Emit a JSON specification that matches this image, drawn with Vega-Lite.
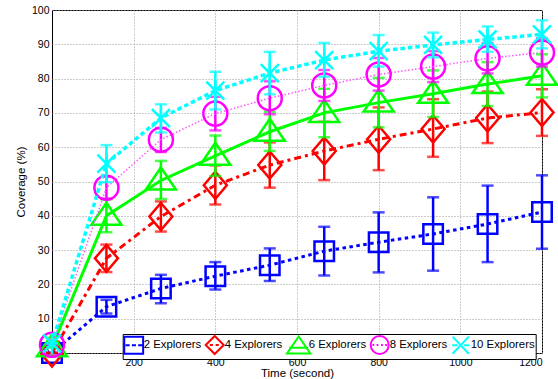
{
  "$schema": "https://vega.github.io/schema/vega-lite/v6.json",
  "width": 490,
  "height": 343,
  "autosize": {"type": "none"},
  "padding": {"left": 52, "top": 10, "right": 16, "bottom": 26},
  "background": "white",
  "datasets": {
    "coverage": [
      {"s": "2 Explorers", "t": 0, "v": 0, "lo": 0, "hi": 0},
      {"s": "2 Explorers", "t": 133.3, "v": 13.5, "lo": 11.5, "hi": 15.5},
      {"s": "2 Explorers", "t": 266.7, "v": 18.8, "lo": 14.5, "hi": 22.8},
      {"s": "2 Explorers", "t": 400, "v": 22.4, "lo": 18.5, "hi": 26.5},
      {"s": "2 Explorers", "t": 533.3, "v": 25.6, "lo": 21, "hi": 30.5},
      {"s": "2 Explorers", "t": 666.7, "v": 29.7, "lo": 22.6, "hi": 36.8},
      {"s": "2 Explorers", "t": 800, "v": 32.3, "lo": 23.5, "hi": 41},
      {"s": "2 Explorers", "t": 933.3, "v": 34.7, "lo": 24, "hi": 45.4},
      {"s": "2 Explorers", "t": 1066.7, "v": 37.6, "lo": 26.5, "hi": 48.8},
      {"s": "2 Explorers", "t": 1200, "v": 41.1, "lo": 30.4, "hi": 51.8},
      {"s": "4 Explorers", "t": 0, "v": 0, "lo": 0, "hi": 0},
      {"s": "4 Explorers", "t": 133.3, "v": 27.6, "lo": 23.6, "hi": 31.6},
      {"s": "4 Explorers", "t": 266.7, "v": 39.8, "lo": 35.4, "hi": 44.2},
      {"s": "4 Explorers", "t": 400, "v": 48.9, "lo": 43.3, "hi": 54.7},
      {"s": "4 Explorers", "t": 533.3, "v": 54.8, "lo": 48.2, "hi": 61.4},
      {"s": "4 Explorers", "t": 666.7, "v": 58.9, "lo": 50.4, "hi": 67.4},
      {"s": "4 Explorers", "t": 800, "v": 62.3, "lo": 53.3, "hi": 71.6},
      {"s": "4 Explorers", "t": 933.3, "v": 65.3, "lo": 57.2, "hi": 74},
      {"s": "4 Explorers", "t": 1066.7, "v": 68.5, "lo": 61.2, "hi": 76.2},
      {"s": "4 Explorers", "t": 1200, "v": 70.1, "lo": 63.3, "hi": 76.9},
      {"s": "6 Explorers", "t": 0, "v": 1.7, "lo": 1.7, "hi": 1.7},
      {"s": "6 Explorers", "t": 133.3, "v": 40, "lo": 35.2, "hi": 44.8},
      {"s": "6 Explorers", "t": 266.7, "v": 50.3, "lo": 44.9, "hi": 56},
      {"s": "6 Explorers", "t": 400, "v": 57.5, "lo": 51.6, "hi": 63.4},
      {"s": "6 Explorers", "t": 533.3, "v": 64.5, "lo": 58.9, "hi": 70.3},
      {"s": "6 Explorers", "t": 666.7, "v": 70, "lo": 62.9, "hi": 77},
      {"s": "6 Explorers", "t": 800, "v": 73, "lo": 65.8, "hi": 80.2},
      {"s": "6 Explorers", "t": 933.3, "v": 75.6, "lo": 68.8, "hi": 82.4},
      {"s": "6 Explorers", "t": 1066.7, "v": 78.4, "lo": 72, "hi": 84.8},
      {"s": "6 Explorers", "t": 1200, "v": 80.8, "lo": 74.5, "hi": 87.1},
      {"s": "8 Explorers", "t": 0, "v": 2.4, "lo": 2.4, "hi": 2.4},
      {"s": "8 Explorers", "t": 133.3, "v": 48.2, "lo": 45, "hi": 51.4},
      {"s": "8 Explorers", "t": 266.7, "v": 62.2, "lo": 58.6, "hi": 65.6},
      {"s": "8 Explorers", "t": 400, "v": 69.8, "lo": 64.9, "hi": 74.7},
      {"s": "8 Explorers", "t": 533.3, "v": 74.3, "lo": 69.6, "hi": 79.2},
      {"s": "8 Explorers", "t": 666.7, "v": 78, "lo": 73.5, "hi": 82.5},
      {"s": "8 Explorers", "t": 800, "v": 81.2, "lo": 76.5, "hi": 86},
      {"s": "8 Explorers", "t": 933.3, "v": 83.5, "lo": 79, "hi": 88},
      {"s": "8 Explorers", "t": 1066.7, "v": 85.9, "lo": 81.5, "hi": 90.3},
      {"s": "8 Explorers", "t": 1200, "v": 87.6, "lo": 83.5, "hi": 91.7},
      {"s": "10 Explorers", "t": 0, "v": 2.8, "lo": 2.8, "hi": 2.8},
      {"s": "10 Explorers", "t": 133.3, "v": 55.2, "lo": 49.8, "hi": 60.6},
      {"s": "10 Explorers", "t": 266.7, "v": 68.5, "lo": 64.3, "hi": 72.5},
      {"s": "10 Explorers", "t": 400, "v": 76.5, "lo": 71, "hi": 82},
      {"s": "10 Explorers", "t": 533.3, "v": 81.6, "lo": 75.4, "hi": 87.8},
      {"s": "10 Explorers", "t": 666.7, "v": 85.4, "lo": 80.5, "hi": 90.4},
      {"s": "10 Explorers", "t": 800, "v": 88, "lo": 83.5, "hi": 92.7},
      {"s": "10 Explorers", "t": 933.3, "v": 89.8, "lo": 86.2, "hi": 93.4},
      {"s": "10 Explorers", "t": 1066.7, "v": 91.4, "lo": 87.8, "hi": 95.2},
      {"s": "10 Explorers", "t": 1200, "v": 92.9, "lo": 88.8, "hi": 97}
    ]
  },
  "data": {"name": "coverage"},
  "encoding": {
    "x": {"field": "t", "type": "quantitative", "title": "Time (second)",
          "scale": {"domain": [0, 1200], "nice": false, "zero": false},
          "axis": {"values": [200, 400, 600, 800, 1000, 1200], "format": "d"}},
    "y": {"field": "v", "type": "quantitative", "title": "Coverage (%)",
          "scale": {"domain": [0, 100], "nice": false, "zero": false},
          "axis": {"values": [0, 10, 20, 30, 40, 50, 60, 70, 80, 90, 100], "format": "d"}}
  },
  "layer": [
    {
      "mark": {"type": "point", "filled": false, "opacity": 0},
      "encoding": {
        "color": {
          "field": "s", "type": "nominal",
          "scale": {
            "domain": ["2 Explorers", "4 Explorers", "6 Explorers", "8 Explorers", "10 Explorers"],
            "range": ["#0000ff", "#ff0000", "#00ff00", "#ff00ff", "#00ffff"]
          },
          "legend": {
            "title": null,
            "orient": "none",
            "legendX": 70.7,
            "legendY": 324,
            "direction": "horizontal",
            "columns": 5,
            "gridAlign": "each",
            "padding": 1,
            "strokeColor": "black",
            "fillColor": "white",
            "symbolSize": 324,
            "symbolStrokeWidth": 2,
            "labelFont": "Liberation Sans",
            "labelFontSize": 11.4,
            "labelColor": "black",
            "labelOffset": 0,
            "columnPadding": 0,
            "encode": {
              "symbols": {
                "update": {
                  "fill": {"value": "transparent"},
                  "stroke": {"scale": "color", "field": "value"},
                  "opacity": {"value": 1},
                  "strokeWidth": {"value": 2}
                }
              }
            }
          }
        },
        "shape": {
          "field": "s", "type": "nominal",
          "scale": {
            "domain": ["2 Explorers", "4 Explorers", "6 Explorers", "8 Explorers", "10 Explorers"],
            "range": [
              "M-1.05,-0.94H1.05V0.94H-1.05Z M-0.9,0H-0.45 M-0.2,0H0.25 M0.5,0H0.95",
              "M0,-1L1,0L0,1L-1,0Z M-0.55,0H-0.2 M0.1,0H0.45",
              "M0,-1L1.3,0.9L-1.3,0.9Z M-1.05,0.25H1.05",
              "M1,0A1,1 0 1,1 -1,0A1,1 0 1,1 1,0Z M-0.8,0H-0.6 M-0.35,0H-0.15 M0.15,0H0.35 M0.6,0H0.8",
              "M-0.9,-0.95L0.9,0.95 M-0.9,0.95L0.9,-0.95 M-0.95,0H-0.35 M0.35,0H0.95"
            ]
          }
        }
      }
    },
    {
      "transform": [{"filter": "datum.s === '2 Explorers'"}],
      "layer": [
        {"mark": {"type": "errorbar", "color": "#0000ff", "ticks": true, "size": 12, "thickness": 2.5},
         "encoding": {"y": {"field": "lo", "type": "quantitative", "title": "Coverage (%)", "scale": {"domain": [0, 100], "nice": false, "zero": false}}, "y2": {"field": "hi"}}},
        {"mark": {"type": "line", "color": "#0000ff", "strokeWidth": 3, "strokeDash": [3.5, 3.5]}},
        {"mark": {"type": "point", "shape": "square", "size": 380, "filled": false, "color": "#0000ff", "strokeWidth": 2.5, "opacity": 1}}
      ]
    },
    {
      "transform": [{"filter": "datum.s === '4 Explorers'"}],
      "layer": [
        {"mark": {"type": "errorbar", "color": "#ff0000", "ticks": true, "size": 12, "thickness": 2.5},
         "encoding": {"y": {"field": "lo", "type": "quantitative", "title": "Coverage (%)", "scale": {"domain": [0, 100], "nice": false, "zero": false}}, "y2": {"field": "hi"}}},
        {"mark": {"type": "line", "color": "#ff0000", "strokeWidth": 3, "strokeDash": [7, 4, 3, 4]}},
        {"mark": {"type": "point", "shape": "M0,-1.35L1.15,0L0,1.35L-1.15,0Z", "size": 400, "filled": false, "color": "#ff0000", "strokeWidth": 2.5, "opacity": 1}}
      ]
    },
    {
      "transform": [{"filter": "datum.s === '6 Explorers'"}],
      "layer": [
        {"mark": {"type": "errorbar", "color": "#00ff00", "ticks": true, "size": 12, "thickness": 2.5},
         "encoding": {"y": {"field": "lo", "type": "quantitative", "title": "Coverage (%)", "scale": {"domain": [0, 100], "nice": false, "zero": false}}, "y2": {"field": "hi"}}},
        {"mark": {"type": "line", "color": "#00ff00", "strokeWidth": 3}},
        {"mark": {"type": "point", "shape": "M0,-1.3L1.5,0.9L-1.5,0.9Z", "size": 400, "filled": false, "color": "#00ff00", "strokeWidth": 2.5, "opacity": 1}}
      ]
    },
    {
      "transform": [{"filter": "datum.s === '8 Explorers'"}],
      "layer": [
        {"mark": {"type": "errorbar", "color": "#ff00ff", "ticks": true, "size": 12, "thickness": 2.5},
         "encoding": {"y": {"field": "lo", "type": "quantitative", "title": "Coverage (%)", "scale": {"domain": [0, 100], "nice": false, "zero": false}}, "y2": {"field": "hi"}}},
        {"mark": {"type": "line", "color": "#ff55ff", "strokeWidth": 1.5, "strokeDash": [1.5, 2]}},
        {"mark": {"type": "point", "shape": "circle", "size": 576, "filled": false, "color": "#ff00ff", "strokeWidth": 2.5, "opacity": 1}}
      ]
    },
    {
      "transform": [{"filter": "datum.s === '10 Explorers'"}],
      "layer": [
        {"mark": {"type": "errorbar", "color": "#00ffff", "ticks": true, "size": 12, "thickness": 2.5},
         "encoding": {"y": {"field": "lo", "type": "quantitative", "title": "Coverage (%)", "scale": {"domain": [0, 100], "nice": false, "zero": false}}, "y2": {"field": "hi"}}},
        {"mark": {"type": "line", "color": "#00ffff", "strokeWidth": 3.5, "strokeDash": [4.5, 3]}},
        {"mark": {"type": "point", "shape": "M-0.9,-0.9L0.9,0.9M-0.9,0.9L0.9,-0.9M0,-1.05V1.05", "size": 400, "filled": false, "color": "#00ffff", "strokeWidth": 2.5, "opacity": 1}}
      ]
    }
  ],
  "config": {
    "view": {"stroke": "black", "strokeWidth": 1},
    "font": "Liberation Sans",
    "legend": {"columnPadding": 0, "labelOffset": 0, "gridAlign": "each"},
    "axis": {
      "domain": false,
      "ticks": false,
      "grid": true,
      "gridColor": "#999999",
      "gridDash": [1, 2],
      "gridWidth": 1,
      "labelFont": "Liberation Sans",
      "labelFontSize": 10.5,
      "labelColor": "black",
      "titleFont": "Liberation Sans",
      "titleFontSize": 11.5,
      "titleFontWeight": "normal",
      "titleColor": "black"
    },
    "axisX": {"labelPadding": 4, "titlePadding": 0},
    "axisY": {"labelPadding": 3, "titlePadding": 5}
  }
}
